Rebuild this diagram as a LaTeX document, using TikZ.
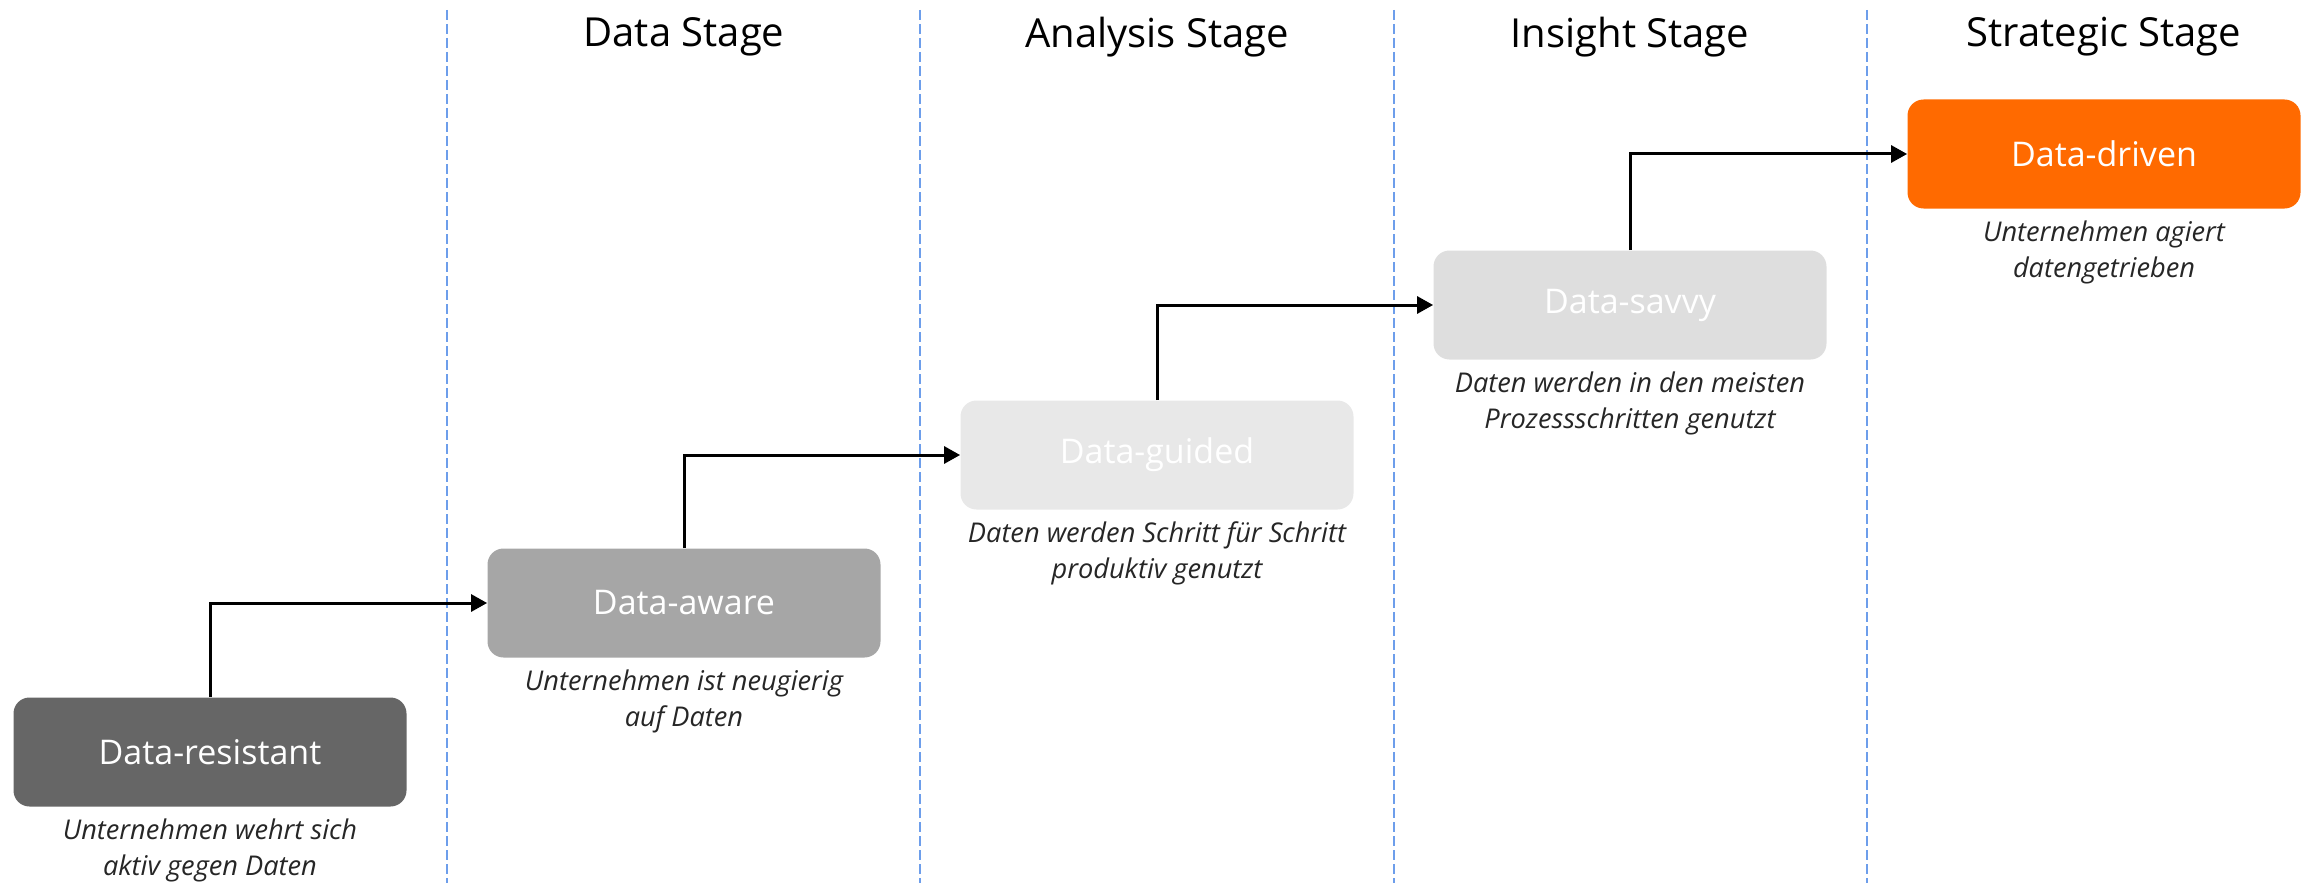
\documentclass[tikz,border=0pt]{standalone}
\usepackage{fontspec}
\setmainfont{Open Sans}
\usetikzlibrary{positioning,arrows.meta}

\definecolor{sepblue}{HTML}{6D9EEB}
\definecolor{descgray}{HTML}{262626}
\definecolor{resgray}{HTML}{666666}
\definecolor{awaregray}{HTML}{A6A6A6}
\definecolor{guidedgray}{HTML}{E8E8E8}
\definecolor{savvygray}{HTML}{DEDEDE}
\definecolor{drivenorange}{HTML}{FF6A00}

\begin{document}
\begin{tikzpicture}[
    x=0.5pt, y=-0.5pt,
    level/.style={rectangle,rounded corners=8pt,minimum width=196.5pt,minimum height=54.5pt,text=white,font=\fontsize{17}{21}\selectfont},
    desc/.style={align=center,text=descgray,font=\fontsize{13.6}{18}\selectfont\itshape},
    title/.style={font=\fontsize{20}{24}\selectfont},
    sep/.style={sepblue,line width=1pt,dash pattern=on 5pt off 2pt},
    link/.style={-{Triangle[length=8pt,width=8.5pt]},line width=1.5pt}
    ]

    \useasboundingbox (0,0) rectangle (2313,883);

    % stage separators:
    \foreach \x in {447,920,1394,1867}
      \draw[sep] (\x,10) -- (\x,883);

    % stage titles:
    \foreach \x/\t in {684/Data Stage,1157/Analysis Stage,1630/Insight Stage,2104/Strategic Stage}
      \node(t\x) at (\x,37) [title] {\t};

    % levels:
    \node(res) at (210,752) [level,fill=resgray] {Data-resistant};
    \node(aware) at (684,603) [level,fill=awaregray] {Data-aware};
    \node(guided) at (1157,455) [level,fill=guidedgray] {Data-guided};
    \node(savvy) at (1630,305) [level,fill=savvygray] {Data-savvy};
    \node(driven) at (2104,154) [level,fill=drivenorange] {Data-driven};

    % descriptions:
    \node(dres) [desc,below=2.5pt of res] {Unternehmen wehrt sich\\aktiv gegen Daten};
    \node(daware) [desc,below=2.5pt of aware] {Unternehmen ist neugierig\\auf Daten};
    \node(dguided) [desc,below=2.5pt of guided] {Daten werden Schritt für Schritt\\produktiv genutzt};
    \node(dsavvy) [desc,below=2.5pt of savvy] {Daten werden in den meisten\\Prozessschritten genutzt};
    \node(ddriven) [desc,below=2.5pt of driven] {Unternehmen agiert\\datengetrieben};

    % connections
    \draw[link] (res) |- (aware);
    \draw[link] (aware) |- (guided);
    \draw[link] (guided) |- (savvy);
    \draw[link] (savvy) |- (driven);

\end{tikzpicture}
\end{document}
